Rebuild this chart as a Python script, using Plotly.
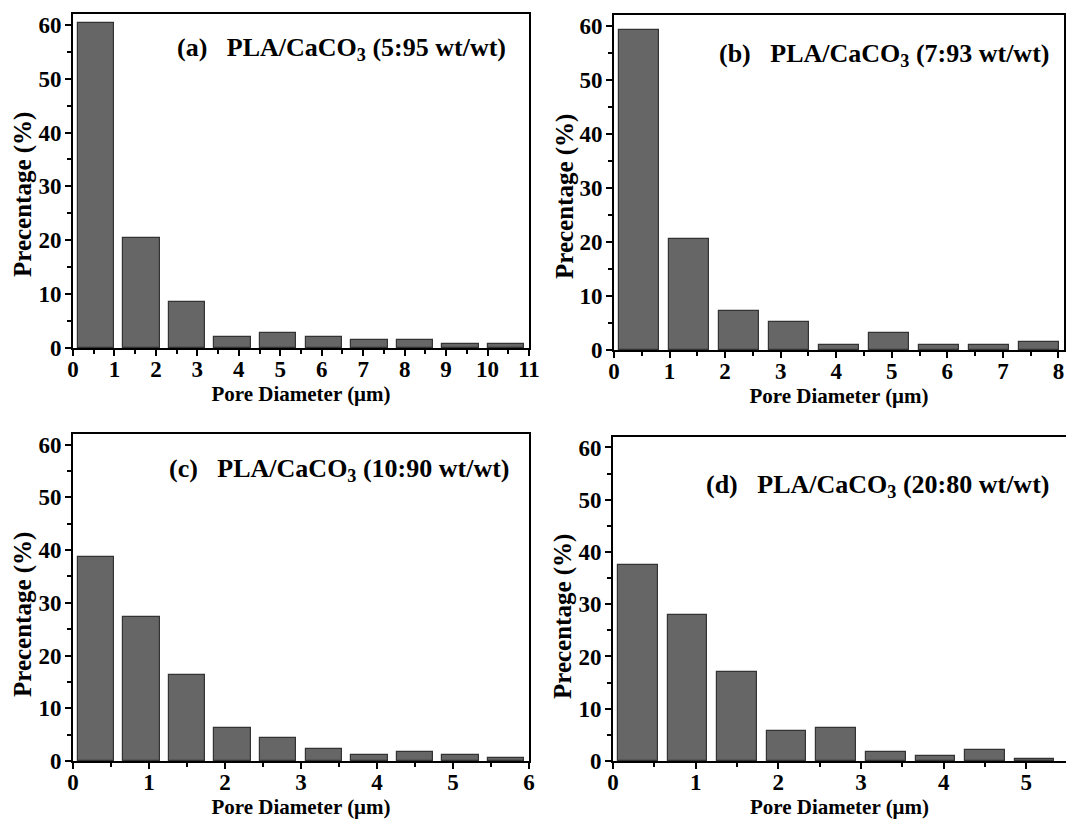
import plotly.graph_objects as go

# ---------------- data ----------------
centers_a = [0.55, 1.65, 2.75, 3.85, 4.95, 6.05, 7.15, 8.25, 9.35, 10.45]
values_a = [60.4, 20.4, 8.6, 2.0, 2.7, 2.0, 1.4, 1.4, 0.8, 0.8]

centers_b = [0.45, 1.35, 2.25, 3.15, 4.05, 4.95, 5.85, 6.75, 7.65]
values_b = [59.3, 20.6, 7.2, 5.2, 1.0, 3.1, 1.0, 1.0, 1.5]

centers_c = [0.3, 0.9, 1.5, 2.1, 2.7, 3.3, 3.9, 4.5, 5.1, 5.7]
values_c = [38.6, 27.3, 16.4, 6.3, 4.4, 2.2, 1.1, 1.7, 1.1, 0.6]

centers_d = [0.3, 0.9, 1.5, 2.1, 2.7, 3.3, 3.9, 4.5, 5.1]
values_d = [37.5, 28.0, 17.0, 5.8, 6.3, 1.8, 0.9, 2.2, 0.4]

bin_widths = [1.1, 0.9, 0.6, 0.6]
x_ranges = [[0, 11], [0, 8.1], [0, 6], [0, 5.48]]
panel_titles = [
    "(a)\u00a0\u00a0\u00a0PLA/CaCO<sub>3</sub> (5:95 wt/wt)",
    "(b)\u00a0\u00a0\u00a0PLA/CaCO<sub>3</sub> (7:93 wt/wt)",
    "(c)\u00a0\u00a0\u00a0PLA/CaCO<sub>3</sub> (10:90 wt/wt)",
    "(d)\u00a0\u00a0\u00a0PLA/CaCO<sub>3</sub> (20:80 wt/wt)",
]
x_title = "Pore Diameter (\u03bcm)"
y_title = "Precentage (%)"

# ---------------- layout helpers ----------------
W, H = 1066, 819
# pixel boxes: (left, right, top, bottom)
boxes = [(73, 529, 14, 348), (614, 1064, 15, 350), (73, 529, 434, 761), (613, 1066, 437, 761)]
title_pos = [(0.955, 0.895), (0.972, 0.880), (0.963, 0.890), (0.966, 0.850)]
ytitle_px = [(23, 195), (565, 197), (23, 615), (563, 617)]

FONT = "Liberation Serif"
fig = go.Figure()
series = [(centers_a, values_a), (centers_b, values_b), (centers_c, values_c), (centers_d, values_d)]

for i, (cx, vals) in enumerate(series):
    n = "" if i == 0 else str(i + 1)
    fig.add_trace(go.Bar(
        x=cx, y=vals, width=[bin_widths[i] * 0.8] * len(cx),
        marker=dict(color="#666666", line=dict(color="#333333", width=1.2)),
        xaxis="x" + n, yaxis="y" + n, showlegend=False,
    ))
    l, r, t, b = boxes[i]
    xd = [l / W, min(r / W, 1.0)]
    yd = [1 - b / H, 1 - t / H]
    tickfont = dict(family=FONT, size=23, color="black", weight="bold")
    xtitlefont = dict(family=FONT, size=21, color="black", weight="bold")
    fig.update_layout(**{
        "xaxis" + n: dict(
            domain=xd, range=x_ranges[i], anchor="y" + n,
            dtick=1, tick0=0, ticks="outside", ticklen=6, tickwidth=2, tickcolor="black",
            minor=dict(ticks="outside", ticklen=4, tickwidth=2, tickcolor="black", dtick=0.5, tick0=0),
            showline=True, linewidth=2, linecolor="black", mirror=True,
            showgrid=False, zeroline=False, tickfont=tickfont, ticklabelstandoff=-7,
            title=dict(text=x_title, font=xtitlefont, standoff=4),
            automargin=False,
        ),
        "yaxis" + n: dict(
            domain=yd, range=[0, 62], anchor="x" + n,
            dtick=10, tick0=0, ticks="outside", ticklen=6, tickwidth=2, tickcolor="black",
            minor=dict(ticks="outside", ticklen=4, tickwidth=2, tickcolor="black", dtick=5, tick0=0),
            showline=True, linewidth=2, linecolor="black", mirror=True,
            showgrid=False, zeroline=False, tickfont=tickfont, ticklabelstandoff=-1,
            automargin=False,
        ),
    })
    # y-axis title (placed slightly below centre as in the original figure)
    fig.add_annotation(
        text=y_title, xref="paper", yref="paper",
        x=ytitle_px[i][0] / W, y=1 - ytitle_px[i][1] / H, xanchor="center", yanchor="middle",
        textangle=-90, showarrow=False,
        font=dict(family=FONT, size=25, color="black", weight="bold"),
    )
    fig.add_annotation(
        text=panel_titles[i], xref="x" + n + " domain", yref="y" + n + " domain",
        x=title_pos[i][0], y=title_pos[i][1], xanchor="right", yanchor="middle",
        showarrow=False, font=dict(family=FONT, size=26, color="black", weight="bold"),
    )

fig.update_layout(
    width=W, height=H, margin=dict(l=0, r=0, t=0, b=0),
    paper_bgcolor="white", plot_bgcolor="white", bargap=0,
)
fig.write_html("out.html")
